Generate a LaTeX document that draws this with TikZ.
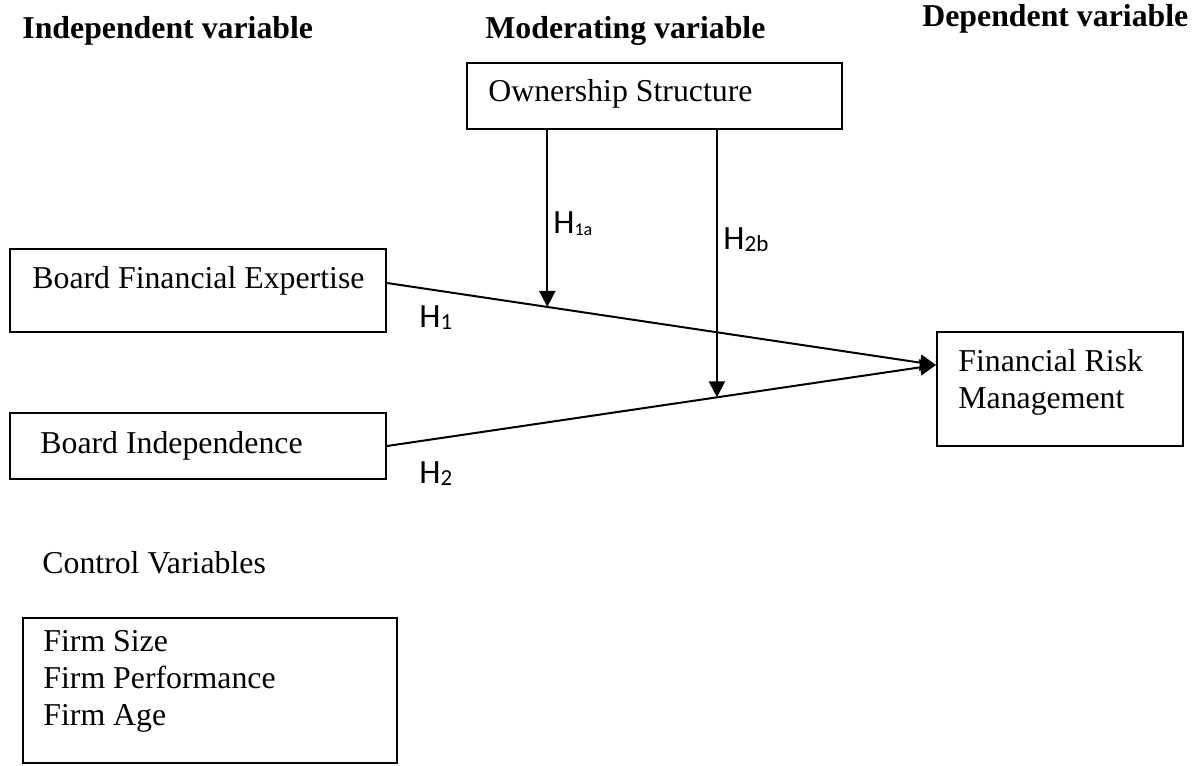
\documentclass[tikz,border=0pt]{standalone}
\usepackage{fontspec}
\setmainfont{Liberation Serif}
\newfontfamily\hfont{Carlito}
\usetikzlibrary{arrows.meta,calc,positioning}
\newcommand{\hyp}[2][11.5]{{\hfont\fontsize{17}{17}\selectfont H\raisebox{-1pt}{\fontsize{#1}{#1}\selectfont #2}}}

\begin{document}
\begin{tikzpicture}[x=0.5pt,y=-0.5pt,>={Triangle[width=8pt,length=8pt]},
    box/.style={draw,line width=1pt,inner sep=0pt},
    txt/.style={anchor=base west,inner sep=0pt,font=\fontsize{15.9}{18.3}\selectfont},
    head/.style={txt,font=\fontsize{15.9}{18.3}\selectfont\bfseries},
    link/.style={->,line width=1pt}]
  \useasboundingbox (0,0) rectangle (1198,765);
  % headings
  \node[head] (indep) at (22,39) {Independent variable};
  \node[head] (moder) at (485,39) {Moderating variable};
  \node[head] (depen) at (922,27) {Dependent variable};
  % boxes
  \node[box,minimum width=187.5pt,minimum height=33pt] (os) at (654.5,96) {};
  \node[box,minimum width=188pt,minimum height=41.5pt] (bfe) at (198,290.5) {};
  \node[box,minimum width=188pt,minimum height=33pt] (bi) at (198,446) {};
  \node[box,minimum width=123pt,minimum height=57pt] (frm) at (1060,389) {};
  \node[box,minimum width=187pt,minimum height=72.5pt] (ctrl) at (210,690.5) {};
  % texts in the boxes (multi-line: base = last line)
  \node[txt] (ostxt) at (488,102) {Ownership Structure};
  \node[txt] (bfetxt) at (32,288) {Board Financial Expertise};
  \node[txt] (bitxt) at (40,453) {Board Independence};
  \node[txt,align=left] (frmtxt) at (958,408) {Financial Risk\\Management};
  \node[txt] (ctrlhead) at (42,573) {Control Variables};
  \node[txt,align=left] (ctrltxt) at (43,725) {Firm Size\\Firm Performance\\Firm Age};
  % connectors
  \coordinate (tip) at ([yshift=12pt]frm.west);
  \coordinate (bfeout) at ([yshift=3.75pt]bfe.east);
  \draw[link] (bfeout) -- (tip);
  \draw[link] (bi.east) -- (tip);
  \coordinate (m1) at ($(bfeout)!0.292!(tip)$);
  \coordinate (m2) at ($(bi.east)!0.601!(tip)$);
  \draw[link] (m1 |- os.south) -- (m1);
  \draw[link] (m2 |- os.south) -- (m2);
  % hypotheses
  \node[txt] (h1) at (419,327) {\hyp{1}};
  \node[txt] (h2) at (419,483) {\hyp{2}};
  \node[txt] (h1a) at (553,233) {\hyp[9]{1a}};
  \node[txt] (h2b) at (723,249) {\hyp{2b}};
\end{tikzpicture}
\end{document}
